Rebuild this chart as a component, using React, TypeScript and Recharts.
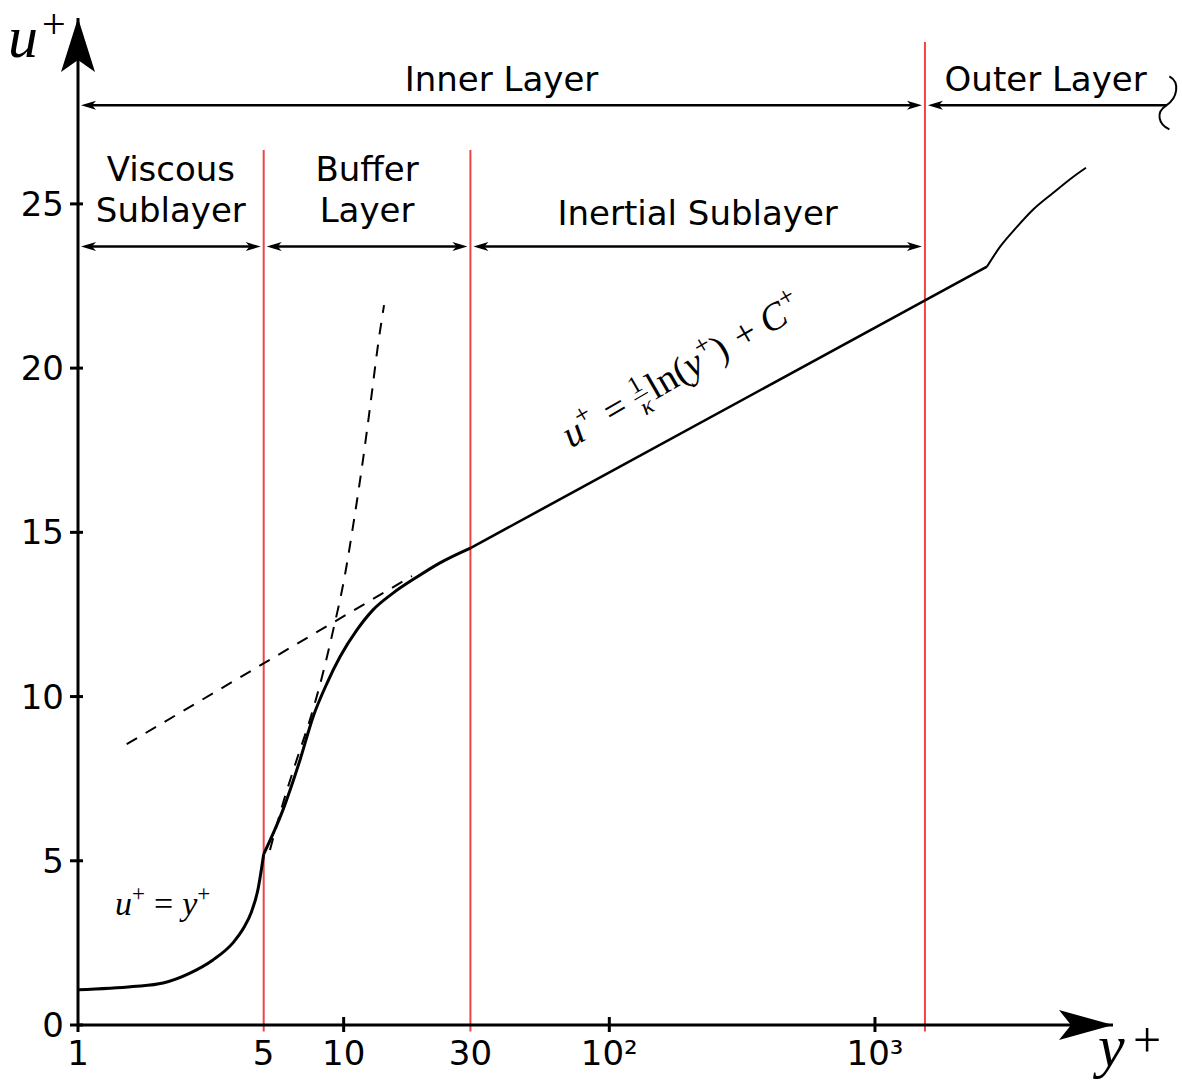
import { ComposedChart, Line, XAxis, YAxis, ReferenceLine, ReferenceDot } from 'recharts'

// readings: y+ (log axis) and u+ values
const viscousY = [1, 1.61, 2.09, 2.64, 3.22, 3.83, 4.2, 4.5, 4.75, 5]
const viscousU = [1.07, 1.17, 1.28, 1.58, 1.98, 2.5, 2.95, 3.45, 4.1, 5.2]
const bufferY = [5, 5.91, 6.85, 7.67, 8.66, 9.69, 11.22, 12.9, 15.34, 18.88, 23.05, 30]
const bufferU = [5.2, 6.55, 8.07, 9.38, 10.41, 11.21, 12.03, 12.64, 13.15, 13.64, 14.07, 14.52]
const logLawY = [30, 2640]
const logLawU = [14.52, 23.09]
const outerY = [2640, 2954, 3423, 3932, 4677, 5565, 6226]
const outerU = [23.09, 23.69, 24.3, 24.82, 25.33, 25.82, 26.1]
const linFitY = [5.28, 5.91, 6.61, 7.47, 8.29, 9.12, 10.03, 10.94, 11.82, 12.67, 13.47, 14.19]
const linFitU = [5.33, 6.75, 8.0, 9.3, 10.6, 12.0, 13.55, 15.38, 17.2, 19.03, 20.71, 21.92]
const logFitY = [1.525, 18.08]
const logFitU = [8.55, 13.67]

const boundaryY = [5, 30, 1542]
const boundaryTop = [26.64, 26.64, 29.93]
const outerEndY = 12500
const layerRowU = 28
const subRowU = 23.7
const layerLabels = ['Inner Layer', 'Outer Layer']
const subLabels = [['Viscous', 'Sublayer'], ['Buffer', 'Layer'], ['Inertial Sublayer']]

const xTicks = [1, 5, 10, 30, 100, 1000]
const xTickLabels = ['1', '5', '10', '30', '10²', '10³']
const yTicks = [0, 5, 10, 15, 20, 25]

const X_MAX = 7870
const Y_MAX = 30.66

const zip = (xs: number[], ys: number[]) => xs.map((yp, i) => ({ yp, u: ys[i] }))

const SANS = "'DejaVu Sans', Verdana, sans-serif"
const SERIF = "'Liberation Serif', 'Times New Roman', serif"
const RED = '#ee4444'
const FS = 34

const head = (x: number, y: number, dir: number) => {
  const L = 15, W = 4.5, N = 11
  return `${x},${y} ${x - dir * L},${y - W} ${x - dir * N},${y} ${x - dir * L},${y + W}`
}

const makeArrow = (lines: string[], lift: number, squiggle = false) => (p: any) => {
  const lo = Math.min(p.x1, p.x2)
  const hi = Math.max(p.x1, p.x2)
  const y = p.y1
  const a = lo + 3
  const b = squiggle ? hi : hi - 3
  const cx = (lo + hi) / 2
  return (
    <g>
      <line x1={a + 8} y1={y} x2={squiggle ? b : b - 8} y2={y} stroke="#000" strokeWidth={2.5} />
      <polygon points={head(a, y, -1)} fill="#000" />
      {squiggle ? (
        <path
          d={`M ${b + 3} ${y - 29} C ${b + 14} ${y - 23}, ${b + 11} ${y - 7}, ${b} ${y} C ${b - 11} ${y + 7}, ${b - 8} ${y + 19}, ${b + 3} ${y + 24}`}
          fill="none"
          stroke="#000"
          strokeWidth={2}
        />
      ) : (
        <polygon points={head(b, y, 1)} fill="#000" />
      )}
      {lines.map((t, i) => (
        <text key={t} x={cx} y={y - lift - (lines.length - 1 - i) * 41} textAnchor="middle" fontFamily={SANS} fontSize={FS} fill="#000">
          {t}
        </text>
      ))}
    </g>
  )
}

const renderXTick = (p: any) => {
  const v = p.payload.value
  const i = xTicks.indexOf(v)
  const showLine = v !== 5 && v !== 30
  return (
    <g>
      {showLine && <line x1={p.x} x2={p.x} y1={v === 1 ? p.y : p.y - 8} y2={p.y + 7} stroke="#000" strokeWidth={3} />}
      <text x={p.x} y={p.y + 40} textAnchor="middle" fontFamily={SANS} fontSize={FS} fill="#000">
        {xTickLabels[i]}
      </text>
    </g>
  )
}

const renderYTick = (p: any) => (
  <g>
    <line x1={p.x - 8} x2={p.x + 5} y1={p.y} y2={p.y} stroke="#000" strokeWidth={3} />
    <text x={p.x - 14} y={p.y + 12} textAnchor="end" fontFamily={SANS} fontSize={FS} fill="#000">
      {p.payload.value}
    </text>
  </g>
)

const YArrow = (p: any) => (
  <g>
    <polygon points={`${p.cx},${p.cy} ${p.cx + 17},${p.cy + 54} ${p.cx},${p.cy + 42} ${p.cx - 17},${p.cy + 54}`} fill="#000" />
    <text x={p.cx - 70} y={p.cy + 39} fontFamily={SERIF} fontStyle="italic" fontSize={60} fill="#000">u</text>
    <text x={p.cx - 36} y={p.cy + 20} fontFamily={SERIF} fontSize={42} fill="#000">+</text>
  </g>
)

const XArrow = (p: any) => (
  <g>
    <polygon points={`${p.cx},${p.cy} ${p.cx - 54},${p.cy - 15} ${p.cx - 42},${p.cy} ${p.cx - 54},${p.cy + 15}`} fill="#000" />
    <text x={p.cx - 15} y={p.cy + 41} fontFamily={SERIF} fontStyle="italic" fontSize={60} fill="#000">y</text>
    <text x={p.cx + 20} y={p.cy + 32} fontFamily={SERIF} fontSize={50} fill="#000">+</text>
  </g>
)

const EqLinear = (p: any) => (
  <text x={p.cx} y={p.cy} fontFamily={SERIF} fontSize={34} fill="#000">
    <tspan fontStyle="italic">u</tspan>
    <tspan fontSize={23} dy={-14}>+</tspan>
    <tspan dx={9} dy={14}>=</tspan>
    <tspan dx={9} fontStyle="italic">y</tspan>
    <tspan fontSize={23} dy={-14}>+</tspan>
  </text>
)

const EqLog = (p: any) => (
  <g transform={`translate(${p.cx},${p.cy}) rotate(-30) scale(1.28)`} fontFamily={SERIF} fill="#000">
    <text x={0} y={0} fontSize={30} fontStyle="italic">u</text>
    <text x={15} y={-12} fontSize={21}>+</text>
    <text x={37} y={0} fontSize={30}>=</text>
    <text x={68} y={-12} fontSize={19} textAnchor="middle">1</text>
    <line x1={62} x2={74} y1={-8} y2={-8} stroke="#000" strokeWidth={0.9} />
    <text x={68} y={7} fontSize={19} fontStyle="italic" textAnchor="middle">κ</text>
    <text x={76} y={0} fontSize={30}>ln(</text>
    <text x={109} y={0} fontSize={30} fontStyle="italic">y</text>
    <text x={123} y={-12} fontSize={21}>+</text>
    <text x={135} y={0} fontSize={30}>)</text>
    <text x={154} y={0} fontSize={30}>+</text>
    <text x={178} y={0} fontSize={30} fontStyle="italic">C</text>
    <text x={199} y={-12} fontSize={21}>+</text>
  </g>
)

export default function App() {
  const rowEdges = [1, ...boundaryY]
  return (
    <div style={{ position: 'absolute', left: 0, top: 0, width: 1182, height: 1083, background: '#fff' }}>
      <ComposedChart width={1182} height={1083} margin={{ top: 18, right: 69, bottom: 0, left: 0 }}>
        <XAxis
          type="number"
          dataKey="yp"
          scale="log"
          domain={[1, X_MAX]}
          allowDataOverflow
          ticks={xTicks}
          interval={0}
          height={58}
          tickSize={0}
          tickMargin={0}
          tickLine={false}
          axisLine={{ stroke: '#000', strokeWidth: 3 }}
          tick={renderXTick}
        />
        <YAxis
          type="number"
          domain={[0, Y_MAX]}
          allowDataOverflow
          ticks={yTicks}
          interval={0}
          width={78}
          tickSize={0}
          tickMargin={0}
          tickLine={false}
          axisLine={{ stroke: '#000', strokeWidth: 3 }}
          tick={renderYTick}
        />

        {boundaryY.map((x, i) => (
          <ReferenceLine
            key={x}
            segment={[{ x, y: -0.2 }, { x, y: boundaryTop[i] }]}
            stroke={RED}
            strokeWidth={2}
            ifOverflow="visible"
          />
        ))}

        <ReferenceLine segment={[{ x: 1, y: layerRowU }, { x: boundaryY[2], y: layerRowU }]} ifOverflow="visible" shape={makeArrow([layerLabels[0]], 14.5)} />
        <ReferenceLine segment={[{ x: boundaryY[2], y: layerRowU }, { x: outerEndY, y: layerRowU }]} ifOverflow="visible" shape={makeArrow([layerLabels[1]], 14.5, true)} />
        {subLabels.map((lab, i) => (
          <ReferenceLine
            key={lab.join(' ')}
            segment={[{ x: rowEdges[i], y: subRowU }, { x: rowEdges[i + 1], y: subRowU }]}
            ifOverflow="visible"
            shape={makeArrow(lab, lab.length > 1 ? 25 : 22)}
          />
        ))}

        <Line data={zip(logFitY, logFitU)} dataKey="u" type="linear" stroke="#000" strokeWidth={2} strokeDasharray="12 10" dot={false} isAnimationActive={false} />
        <Line data={zip(linFitY, linFitU)} dataKey="u" type="monotone" stroke="#000" strokeWidth={2} strokeDasharray="12 10" dot={false} isAnimationActive={false} />
        <Line data={zip(viscousY, viscousU)} dataKey="u" type="monotone" stroke="#000" strokeWidth={3} dot={false} isAnimationActive={false} />
        <Line data={zip(bufferY, bufferU)} dataKey="u" type="monotone" stroke="#000" strokeWidth={3} dot={false} isAnimationActive={false} />
        <Line data={zip(logLawY, logLawU)} dataKey="u" type="linear" stroke="#000" strokeWidth={2.6} dot={false} isAnimationActive={false} />
        <Line data={zip(outerY, outerU)} dataKey="u" type="monotone" stroke="#000" strokeWidth={2} dot={false} isAnimationActive={false} />

        <ReferenceDot x={1.378} y={3.35} r={0} ifOverflow="visible" shape={EqLinear} />
        <ReferenceDot x={71.7} y={17.55} r={0} ifOverflow="visible" shape={EqLog} />
        <ReferenceDot x={1} y={Y_MAX} r={0} ifOverflow="visible" shape={YArrow} />
        <ReferenceDot x={X_MAX} y={0} r={0} ifOverflow="visible" shape={XArrow} />
      </ComposedChart>
    </div>
  )
}
